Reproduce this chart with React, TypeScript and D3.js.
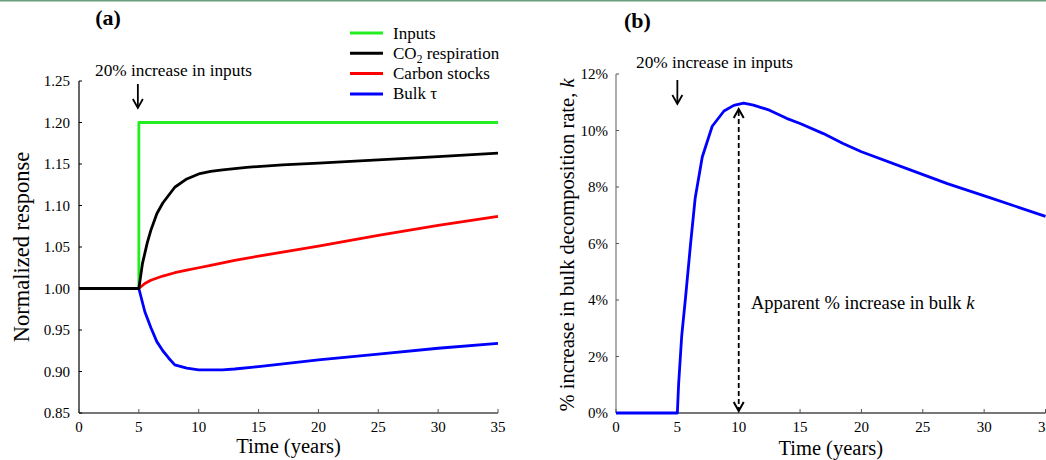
import React, { useEffect, useRef } from 'react';
import * as d3 from 'd3';

// Panel (a): normalized responses
const inputsT = [0, 5, 5, 35];
const inputsV = [1.0, 1.0, 1.2, 1.2];

const respT = [0, 5, 5.3, 5.7, 6, 6.5, 7, 8, 9, 10, 11, 12, 14, 17, 20, 25, 30, 35];
const respV = [1.0, 1.0, 1.03, 1.055, 1.07, 1.09, 1.103, 1.122, 1.132, 1.138, 1.141, 1.143, 1.146, 1.149, 1.151, 1.155, 1.159, 1.163];

const stockT = [0, 5, 5.5, 6, 7, 8, 9, 10, 11, 12, 13, 15, 20, 25, 30, 35];
const stockV = [1.0, 1.0, 1.006, 1.01, 1.015, 1.019, 1.022, 1.025, 1.028, 1.031, 1.034, 1.039, 1.051, 1.064, 1.076, 1.087];

const tauT = [0, 5, 5.5, 6, 6.5, 7, 7.5, 8, 9, 10, 11, 12, 13, 15, 20, 25, 30, 35];
const tauV = [1.0, 1.0, 0.972, 0.953, 0.936, 0.925, 0.916, 0.908, 0.904, 0.902, 0.902, 0.902, 0.903, 0.906, 0.914, 0.921, 0.928, 0.934];

const seriesNames = ['Inputs', 'CO2 respiration', 'Carbon stocks', 'Bulk τ'];
const seriesColors = ['#22ee22', '#000000', '#ff0000', '#0000ff'];

const yTicksA = [0.85, 0.9, 0.95, 1.0, 1.05, 1.1, 1.15, 1.2, 1.25];
const xTicks = [0, 5, 10, 15, 20, 25, 30, 35];

// Panel (b): % increase in bulk decomposition rate
const kT = [0, 5, 5.1, 5.35, 5.67, 6.08, 6.45, 7.03, 7.84, 8.8, 9.6, 10.4, 11.2, 12.5, 13.9, 15, 16.9, 18.5, 20, 23.7, 27, 30.7, 35];
const kV = [0, 0, 1.0, 2.7, 4.1, 6.0, 7.6, 9.06, 10.15, 10.69, 10.89, 10.97, 10.9, 10.72, 10.43, 10.25, 9.89, 9.54, 9.25, 8.65, 8.12, 7.59, 6.96];
const yTicksB = [0, 2, 4, 6, 8, 10, 12];

const App = () => {
  const ref = useRef<SVGSVGElement>(null);

  useEffect(() => {
    const svg = d3.select(ref.current);
    svg.selectAll('*').remove();
    const font = "'Liberation Serif', 'Times New Roman', serif";

    // top border
    svg.append('rect').attr('x', 0).attr('y', 0).attr('width', 1046).attr('height', 1.5).attr('fill', '#6b9e7e');

    // ---------- Panel (a) ----------
    const xa = d3.scaleLinear().domain([0, 35]).range([79, 498]);
    const ya = d3.scaleLinear().domain([0.85, 1.25]).range([413, 81]);
    const ga = svg.append('g').style('font-family', font);

    // axes
    ga.append('line').attr('x1', xa(0)).attr('x2', xa(35)).attr('y1', ya(0.85)).attr('y2', ya(0.85))
      .attr('stroke', '#777').attr('stroke-width', 2);
    ga.append('line').attr('x1', xa(0)).attr('x2', xa(0)).attr('y1', ya(0.85)).attr('y2', ya(1.25))
      .attr('stroke', '#000').attr('stroke-width', 1.2);
    xTicks.forEach(t => {
      ga.append('line').attr('x1', xa(t)).attr('x2', xa(t)).attr('y1', ya(0.85)).attr('y2', ya(0.85) - 4)
        .attr('stroke', '#555').attr('stroke-width', 1);
      ga.append('text').attr('x', xa(t)).attr('y', ya(0.85) + 19).attr('text-anchor', 'middle')
        .attr('font-size', 15).text(t);
    });
    yTicksA.forEach(v => {
      ga.append('line').attr('x1', xa(0)).attr('x2', xa(0) + 3).attr('y1', ya(v)).attr('y2', ya(v))
        .attr('stroke', '#000').attr('stroke-width', 1);
      ga.append('text').attr('x', xa(0) - 9).attr('y', ya(v) + 5).attr('text-anchor', 'end')
        .attr('font-size', 15).text(v.toFixed(2));
    });

    const lineA = d3.line<[number, number]>().x(d => xa(d[0])).y(d => ya(d[1]));
    const zip = (t: number[], v: number[]) => t.map((x, i) => [x, v[i]] as [number, number]);
    const dataA = [zip(inputsT, inputsV), zip(respT, respV), zip(stockT, stockV), zip(tauT, tauV)];
    const order = [3, 2, 0, 1];
    order.forEach(i => {
      ga.append('path').attr('d', lineA(dataA[i])).attr('fill', 'none')
        .attr('stroke', seriesColors[i]).attr('stroke-width', 2.8).attr('stroke-linejoin', 'round');
    });

    // legend
    seriesNames.forEach((name, i) => {
      const y = 33 + i * 20.3;
      ga.append('line').attr('x1', 350).attr('x2', 383).attr('y1', y).attr('y2', y)
        .attr('stroke', seriesColors[i]).attr('stroke-width', 3);
      const tx = ga.append('text').attr('x', 393).attr('y', y + 5.5).attr('font-size', 17);
      if (i === 1) {
        tx.append('tspan').text('CO');
        tx.append('tspan').attr('font-size', 11.5).attr('dy', 4).text('2');
        tx.append('tspan').attr('dy', -4).text(' respiration');
      } else {
        tx.text(name);
      }
    });

    ga.append('text').attr('x', 108).attr('y', 25).attr('text-anchor', 'middle')
      .attr('font-size', 22).attr('font-weight', 'bold').text('(a)');
    ga.append('text').attr('x', 95).attr('y', 76).attr('font-size', 17.3)
      .text('20% increase in inputs');
    // arrow
    const arrowX = xa(5) - 1;
    ga.append('line').attr('x1', arrowX).attr('x2', arrowX).attr('y1', 84).attr('y2', 107)
      .attr('stroke', '#000').attr('stroke-width', 1.8);
    ga.append('path').attr('d', `M${arrowX - 5},${99} L${arrowX},${108} L${arrowX + 5},${99}`)
      .attr('fill', 'none').attr('stroke', '#000').attr('stroke-width', 1.8);

    ga.append('text').attr('transform', `translate(29,${ya(1.05)}) rotate(-90)`).attr('text-anchor', 'middle')
      .attr('font-size', 22.5).text('Normalized response');
    ga.append('text').attr('x', xa(17.5)).attr('y', 453).attr('text-anchor', 'middle')
      .attr('font-size', 20.5).text('Time (years)');

    // ---------- Panel (b) ----------
    const xb = d3.scaleLinear().domain([0, 35]).range([616, 1045.5]);
    const yb = d3.scaleLinear().domain([0, 12]).range([413, 74]);
    const gb = svg.append('g').style('font-family', font);

    gb.append('line').attr('x1', xb(0)).attr('x2', xb(35)).attr('y1', yb(0)).attr('y2', yb(0))
      .attr('stroke', '#777').attr('stroke-width', 2);
    gb.append('line').attr('x1', xb(0)).attr('x2', xb(0)).attr('y1', yb(0)).attr('y2', yb(12))
      .attr('stroke', '#777').attr('stroke-width', 1.2);
    xTicks.forEach(t => {
      gb.append('line').attr('x1', xb(t)).attr('x2', xb(t)).attr('y1', yb(0)).attr('y2', yb(0) - 4)
        .attr('stroke', '#555').attr('stroke-width', 1);
      gb.append('text').attr('x', xb(t)).attr('y', yb(0) + 19).attr('text-anchor', 'middle')
        .attr('font-size', 15).text(t);
    });
    yTicksB.forEach(v => {
      gb.append('line').attr('x1', xb(0)).attr('x2', xb(0) + 3).attr('y1', yb(v)).attr('y2', yb(v))
        .attr('stroke', '#555').attr('stroke-width', 1);
      gb.append('text').attr('x', xb(0) - 8).attr('y', yb(v) + 5).attr('text-anchor', 'end')
        .attr('font-size', 15).text(`${v}%`);
    });

    const lineB = d3.line<[number, number]>().x(d => xb(d[0])).y(d => yb(d[1]));
    gb.append('path').attr('d', lineB(zip(kT, kV))).attr('fill', 'none')
      .attr('stroke', '#0000ff').attr('stroke-width', 2.8).attr('stroke-linejoin', 'round');

    // dashed double arrow
    const dx = xb(10);
    const top = yb(10.9) + 4;
    const bot = yb(0) - 2;
    gb.append('line').attr('x1', dx).attr('x2', dx).attr('y1', top + 2).attr('y2', bot - 2)
      .attr('stroke', '#000').attr('stroke-width', 1.8).attr('stroke-dasharray', '5,3');
    gb.append('path').attr('d', `M${dx - 5},${top + 9} L${dx},${top} L${dx + 5},${top + 9}`)
      .attr('fill', 'none').attr('stroke', '#000').attr('stroke-width', 2);
    gb.append('path').attr('d', `M${dx - 5},${bot - 9} L${dx},${bot} L${dx + 5},${bot - 9}`)
      .attr('fill', 'none').attr('stroke', '#000').attr('stroke-width', 2);

    gb.append('text').attr('x', 624).attr('y', 28).attr('font-size', 22)
      .attr('font-weight', 'bold').text('(b)');
    gb.append('text').attr('x', 636).attr('y', 68).attr('font-size', 17.3)
      .text('20% increase in inputs');
    const ax = xb(5);
    gb.append('line').attr('x1', ax).attr('x2', ax).attr('y1', 80).attr('y2', 103)
      .attr('stroke', '#000').attr('stroke-width', 1.8);
    gb.append('path').attr('d', `M${ax - 5},${95} L${ax},${104} L${ax + 5},${95}`)
      .attr('fill', 'none').attr('stroke', '#000').attr('stroke-width', 1.8);

    const ap = gb.append('text').attr('x', 751).attr('y', 309).attr('font-size', 18.5);
    ap.append('tspan').text('Apparent % increase in bulk ');
    ap.append('tspan').attr('font-style', 'italic').text('k');

    const yl = gb.append('text').attr('transform', `translate(574,245) rotate(-90)`).attr('text-anchor', 'middle')
      .attr('font-size', 20.5);
    yl.append('tspan').text('% increase in bulk decomposition rate, ');
    yl.append('tspan').attr('font-style', 'italic').text('k');
    gb.append('text').attr('x', xb(17.5)).attr('y', 455).attr('text-anchor', 'middle')
      .attr('font-size', 20.5).text('Time (years)');
  }, []);

  return (
    <div style={{ position: 'absolute', left: 0, top: 0 }}>
      <svg ref={ref} width={1046} height={460} style={{ display: 'block', background: '#fff' }} />
    </div>
  );
};

export default App;
